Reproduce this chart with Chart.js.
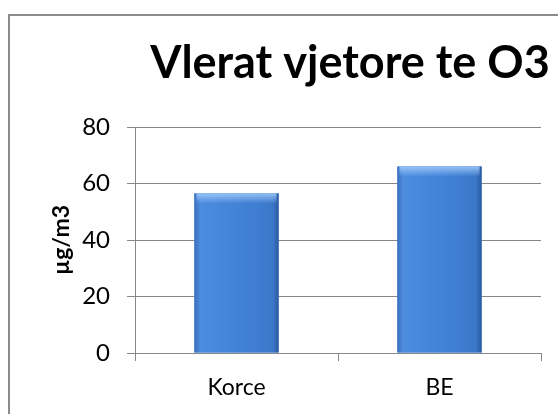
<!DOCTYPE html>
<html>
<head>
<meta charset="utf-8">
<script src="https://cdn.jsdelivr.net/npm/chart.js@4/dist/chart.umd.min.js"></script>
<style>
    body { margin: 0; background: #fff; overflow: hidden; }
    #wrap { position: relative; width: 558px; height: 414px; }
    #frame {
        position: absolute; left: 8px; top: 14px; width: 620px; height: 480px;
        border-left: 2px solid #8c8c8c; border-top: 2px solid #8c8c8c;
    }
    canvas { position: absolute; left: 0; top: 0; }
</style>
</head>
<body>
<div id="wrap">
    <div id="frame"></div>
    <canvas id="chart" width="558" height="414"></canvas>
</div>
<script>
// Datos del gráfico
const categories = ['Korce', 'BE'];
const o3Values = [56.5, 66];
const yTicks = [0, 20, 40, 60, 80];
const chartTitle = 'Vlerat vjetore te O3';
const yTitle = 'µg/m3';

const gridColor = '#878787';

// Título dibujado a mano (centrado sobre el gráfico original)
const titlePlugin = {
    id: 'bigTitle',
    afterDraw(chart) {
        const ctx = chart.ctx;
        ctx.save();
        ctx.font = 'bold 45px Lato';
        ctx.fillStyle = '#000';
        ctx.textAlign = 'center';
        ctx.textBaseline = 'alphabetic';
        ctx.fillText(chartTitle, 350, 78);
        ctx.restore();
    }
};

// Degradado de las barras (cada barra con su propio degradado)
function barGradient(ctx, bar) {
    const left = bar.x - bar.width / 2;
    const g = ctx.createLinearGradient(left, 0, left + bar.width, 0);
    g.addColorStop(0, '#3a6fbd');
    g.addColorStop(0.07, '#4d8ddf');
    g.addColorStop(0.5, '#4283d8');
    g.addColorStop(0.93, '#3b78ca');
    g.addColorStop(1, '#2c5aa0');
    return g;
}

const barShading = {
    id: 'barShading',
    afterDatasetsDraw(chart) {
        const ctx = chart.ctx;
        chart.getDatasetMeta(0).data.forEach(bar => {
            const left = bar.x - bar.width / 2;
            ctx.save();
            ctx.fillStyle = barGradient(ctx, bar);
            ctx.fillRect(left, bar.y, bar.width, bar.base - bar.y);
            const g = ctx.createLinearGradient(0, bar.y, 0, bar.y + 10);
            g.addColorStop(0, 'rgba(170,210,255,0.8)');
            g.addColorStop(1, 'rgba(170,210,255,0)');
            ctx.fillStyle = g;
            ctx.fillRect(left + 2, bar.y, bar.width - 4, 10);
            ctx.restore();
        });
    }
};

new Chart(document.getElementById('chart'), {
    type: 'bar',
    data: {
        labels: categories,
        datasets: [{
            data: o3Values,
            backgroundColor: () => '#4283d8',
            borderWidth: 0,
            barPercentage: 0.415,
            categoryPercentage: 1
        }]
    },
    options: {
        responsive: false,
        animation: false,
        layout: { padding: { top: 127, right: 17, left: 0, bottom: 0 } },
        plugins: {
            legend: { display: false },
            tooltip: { enabled: false }
        },
        scales: {
            x: {
                offset: true,
                grid: {
                    offset: true,
                    drawOnChartArea: false,
                    color: gridColor,
                    tickLength: 8
                },
                border: { color: gridColor, width: 1 },
                ticks: {
                    color: '#000',
                    padding: 13,
                    font: { family: 'Lato', size: 23 }
                },
                afterFit(scale) { scale.height = 414 - 353; }
            },
            y: {
                min: yTicks[0],
                max: yTicks[yTicks.length - 1],
                afterBuildTicks(scale) { scale.ticks = yTicks.map(v => ({ value: v })); },
                grid: { color: gridColor, tickLength: 8 },
                border: { color: gridColor, width: 1 },
                ticks: {
                    color: '#000',
                    padding: 17,
                    font: { family: 'Lato', size: 24 }
                },
                title: {
                    display: true,
                    text: yTitle,
                    color: '#000',
                    padding: { top: 48, bottom: 0 },
                    font: { family: 'Lato', size: 23, weight: 'bold' }
                },
                afterFit(scale) { scale.width = 135; }
            }
        }
    },
    plugins: [barShading, titlePlugin]
});
</script>
</body>
</html>
